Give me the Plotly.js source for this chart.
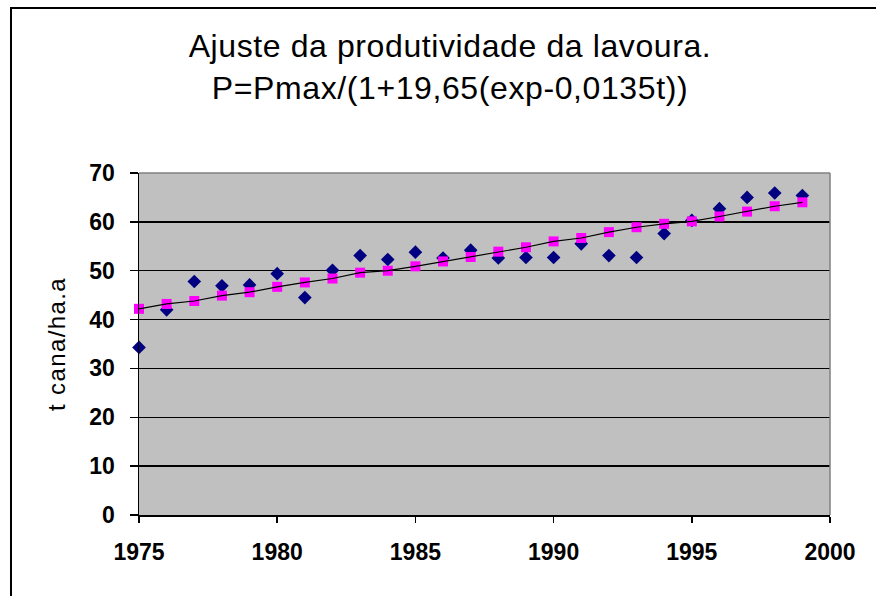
<!DOCTYPE html>
<html>
<head>
<meta charset="utf-8">
<script src="https://cdn.plot.ly/plotly-3.0.1.min.js"></script>
<style>
html,body{margin:0;padding:0;background:#fff;}
#chart{width:876px;height:596px;}
.gtitle{letter-spacing:0.6px;}
.ytitle{letter-spacing:1.4px;}
</style>
</head>
<body>
<div id="chart"></div>
<script>
// Data
const years = [1975,1976,1977,1978,1979,1980,1981,1982,1983,1984,1985,1986,1987,1988,1989,1990,1991,1992,1993,1994,1995,1996,1997,1998,1999];
const observed = [34.3,42.0,47.8,46.9,47.1,49.4,44.5,50.1,53.1,52.3,53.8,52.6,54.2,52.6,52.7,52.7,55.5,53.1,52.7,57.6,60.3,62.7,65.0,65.9,65.4];
const fitted = [42.2,43.2,43.8,44.9,45.6,46.7,47.6,48.4,49.6,50.0,50.9,51.9,52.8,53.9,54.8,56.0,56.7,57.9,58.9,59.6,60.1,61.1,62.1,63.2,64.0];
const titleText = "Ajuste da produtividade da lavoura.<br>P=Pmax/(1+19,65(exp-0,0135t))";
const yTitle = "t cana/ha.a";
const xTicks = [1975,1980,1985,1990,1995,2000];
const yTicks = [0,10,20,30,40,50,60,70];

const font = "'Liberation Sans', Arial, sans-serif";

const traces = [
  {x: years, y: observed, type: 'scatter', mode: 'markers', name: 'observado', cliponaxis: false,
   marker: {symbol: 'diamond', color: '#000080', size: 10.5}},
  {x: years, y: fitted, type: 'scatter', mode: 'markers', name: 'ajustado', cliponaxis: false,
   marker: {symbol: 'square', color: '#ff00ff', size: 10}},
  {x: years, y: fitted, type: 'scatter', mode: 'lines', name: 'curva',
   line: {color: '#000000', width: 1.2}}
];

const layout = {
  width: 876, height: 596,
  margin: {l: 139, r: 46, t: 173, b: 81, pad: 0},
  paper_bgcolor: '#ffffff',
  plot_bgcolor: '#c0c0c0',
  showlegend: false,
  font: {family: font, color: '#000'},
  title: {text: titleText, font: {family: font, size: 32, color: '#000'},
          x: 450/876, xanchor: 'center', xref: 'container',
          y: 1 - 57/596, yanchor: 'top', yref: 'container'},
  xaxis: {range: [1975, 2000], tickvals: xTicks, ticktext: xTicks.map(String),
          showgrid: false, zeroline: false,
          showline: true, linecolor: '#000', linewidth: 1.5,
          ticks: 'outside', ticklen: 6, tickwidth: 1.5, tickcolor: '#000',
          tickfont: {family: font, size: 23, color: '#000', weight: 'bold'},
          ticklabelstandoff: 10},
  yaxis: {range: [0, 70], tickvals: yTicks, ticktext: yTicks.map(String),
          showgrid: true, gridcolor: '#000', gridwidth: 1.5, zeroline: false,
          showline: true, linecolor: '#000', linewidth: 1.5,
          ticks: 'outside', ticklen: 8, tickwidth: 1.5, tickcolor: '#000',
          tickfont: {family: font, size: 23, color: '#000', weight: 'bold'},
          ticklabelstandoff: 10,
          title: {text: yTitle, font: {family: font, size: 24, color: '#000'}, standoff: 17}},
  shapes: [
    {type: 'line', xref: 'paper', yref: 'paper', x0: 0, x1: 1, y0: 1, y1: 1,
     line: {color: '#808080', width: 1.5}},
    {type: 'line', xref: 'paper', yref: 'paper', x0: 1, x1: 1, y0: 0, y1: 1,
     line: {color: '#808080', width: 1.5}},
    {type: 'rect', xref: 'paper', yref: 'paper', x0: (11-139)/691, x1: 1.2,
     y0: -0.4, y1: (515-8)/342, line: {color: '#000', width: 2}, fillcolor: 'rgba(0,0,0,0)'}
  ]
};

Plotly.newPlot('chart', traces, layout, {displayModeBar: false, staticPlot: true});
</script>
</body>
</html>
